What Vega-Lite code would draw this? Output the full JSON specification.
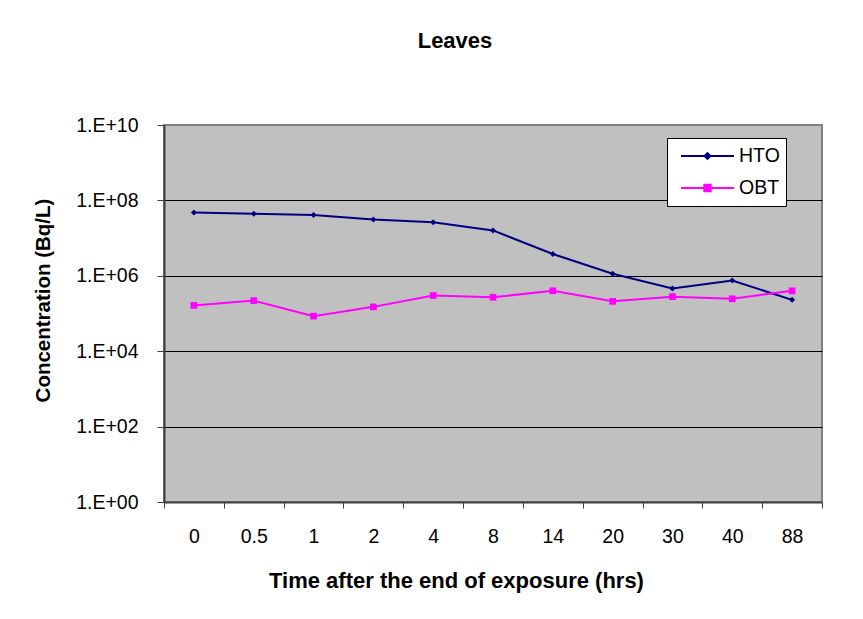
{
  "$schema": "https://vega.github.io/schema/vega-lite/v6.json",
  "autosize": "none",
  "width": 658,
  "height": 377,
  "padding": {"left": 164, "top": 125, "right": 41, "bottom": 117},
  "background": "white",
  "config": {
    "font": "Liberation Sans",
    "view": {"fill": "#C0C0C0", "stroke": "#808080", "strokeWidth": 2}
  },
  "title": {
    "text": "Leaves",
    "anchor": "middle",
    "frame": "group",
    "dx": -38,
    "offset": 62,
    "fontSize": 22,
    "fontWeight": "bold",
    "font": "Liberation Sans",
    "color": "black"
  },
  "data": {
    "values": [
      {"t": "0", "series": "HTO", "c": 4.8e7},
      {"t": "0.5", "series": "HTO", "c": 4.4e7},
      {"t": "1", "series": "HTO", "c": 4.1e7},
      {"t": "2", "series": "HTO", "c": 3.1e7},
      {"t": "4", "series": "HTO", "c": 2.65e7},
      {"t": "8", "series": "HTO", "c": 1.6e7},
      {"t": "14", "series": "HTO", "c": 3.8e6},
      {"t": "20", "series": "HTO", "c": 1.13e6},
      {"t": "30", "series": "HTO", "c": 4.6e5},
      {"t": "40", "series": "HTO", "c": 7.5e5},
      {"t": "88", "series": "HTO", "c": 2.3e5},
      {"t": "0", "series": "OBT", "c": 1.64e5},
      {"t": "0.5", "series": "OBT", "c": 2.2e5},
      {"t": "1", "series": "OBT", "c": 8.5e4},
      {"t": "2", "series": "OBT", "c": 1.5e5},
      {"t": "4", "series": "OBT", "c": 3.0e5},
      {"t": "8", "series": "OBT", "c": 2.7e5},
      {"t": "14", "series": "OBT", "c": 4.0e5},
      {"t": "20", "series": "OBT", "c": 2.1e5},
      {"t": "30", "series": "OBT", "c": 2.8e5},
      {"t": "40", "series": "OBT", "c": 2.45e5},
      {"t": "88", "series": "OBT", "c": 4.0e5}
    ]
  },
  "encoding": {
    "x": {
      "field": "t",
      "type": "nominal",
      "sort": ["0", "0.5", "1", "2", "4", "8", "14", "20", "30", "40", "88"],
      "scale": {"type": "band", "paddingInner": 0, "paddingOuter": 0},
      "axis": {
        "title": "Time after the end of exposure (hrs)",
        "titleFontSize": 22,
        "titleFontWeight": "bold",
        "titleColor": "black",
        "titleX": 292,
        "titleY": 85,
        "titleBaseline": "alphabetic",
        "titleAlign": "center",
        "labelAngle": 0,
        "labelFontSize": 19.5,
        "labelColor": "black",
        "labelPadding": 19,
        "tickBand": "extent",
        "tickSize": 6,
        "tickColor": "#404040",
        "domainColor": "#404040",
        "domainWidth": 2,
        "grid": false
      }
    },
    "y": {
      "field": "c",
      "type": "quantitative",
      "scale": {"type": "log", "domain": [1, 1e10], "nice": false},
      "axis": {
        "title": "Concentration (Bq/L)",
        "titleFontSize": 20.5,
        "titleFontWeight": "bold",
        "titleColor": "black",
        "titleAngle": 270,
        "titleAlign": "center",
        "titleBaseline": "middle",
        "titleX": -121,
        "titleY": 175,
        "values": [1, 100, 10000, 1000000, 100000000, 10000000000],
        "labelExpr": "'1.E+' + (round(log(datum.value)/LN10) < 10 ? '0' : '') + round(log(datum.value)/LN10)",
        "labelFontSize": 19.5,
        "labelColor": "black",
        "labelPadding": 19,
        "tickSize": 7,
        "tickColor": "#404040",
        "domainColor": "#404040",
        "domainWidth": 2,
        "grid": true,
        "gridColor": {"condition": {"test": "datum.value > 1e9 || datum.value < 2", "value": "transparent"}, "value": "black"},
        "gridWidth": 1
      }
    }
  },
  "layer": [
    {
      "mark": {"type": "line", "strokeWidth": 2},
      "encoding": {
        "color": {
          "field": "series",
          "type": "nominal",
          "scale": {"domain": ["HTO", "OBT"], "range": ["#000080", "#FF00FF"]},
          "legend": {
            "title": null,
            "orient": "none",
            "legendX": 503,
            "legendY": 13,
            "padding": 6,
            "fillColor": "white",
            "strokeColor": "black",
            "symbolType": "M-1,0L1,0",
            "symbolSize": 2809,
            "symbolStrokeWidth": 2,
            "symbolOffset": 7,
            "clipHeight": 24,
            "rowPadding": 8,
            "labelFontSize": 19.5,
            "labelColor": "black",
            "labelOffset": 4,
            "encode": {
              "symbols": {
                "update": {
                  "shape": {"signal": "datum.value === 'HTO' ? 'M-1,0L1,0M-0.11,0L0,-0.11L0.11,0L0,0.11Z' : 'M-1,0L1,0M-0.12,-0.12H0.12V0.12H-0.12Z'"},
                  "fill": {"signal": "datum.value === 'HTO' ? '#000080' : '#FF00FF'"},
                  "stroke": {"signal": "datum.value === 'HTO' ? '#000080' : '#FF00FF'"},
                  "strokeWidth": {"value": 2},
                  "opacity": {"value": 1},
                  "fillOpacity": {"value": 1},
                  "strokeOpacity": {"value": 1}
                }
              }
            }
          }
        }
      }
    },
    {
      "transform": [{"filter": "datum.series === 'HTO'"}],
      "mark": {"type": "point", "shape": "diamond", "filled": true, "opacity": 1, "size": 36, "color": "#000080"}
    },
    {
      "transform": [{"filter": "datum.series === 'OBT'"}],
      "mark": {"type": "point", "shape": "square", "filled": true, "opacity": 1, "size": 45, "color": "#FF00FF"}
    }
  ]
}
